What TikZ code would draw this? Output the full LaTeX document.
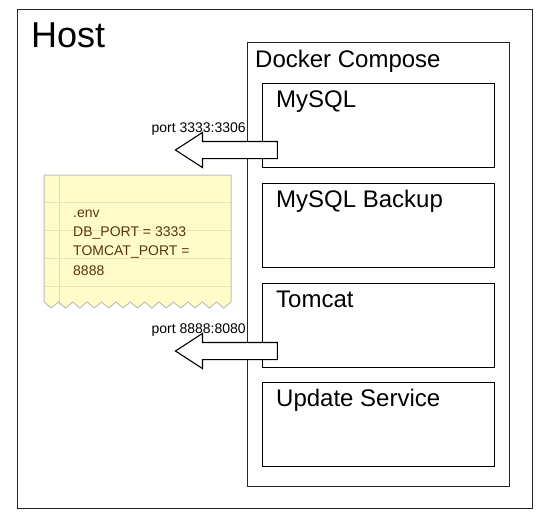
\documentclass[tikz,border=0pt]{standalone}
\usepackage{fontspec}
\setmainfont{Liberation Sans}
\usetikzlibrary{shapes.arrows}
\definecolor{notefill}{RGB}{255,252,200}
\definecolor{noteline}{RGB}{232,228,180}
\definecolor{notemargin}{RGB}{246,214,180}
\definecolor{notetext}{RGB}{92,51,10}
\begin{document}
\begin{tikzpicture}[x=1pt,y=-1pt]
\tikzstyle{every node}+=[inner sep=0pt]
\tikzstyle{frame}=[draw=black!85,line width=1.2pt,anchor=north west]
\tikzstyle{service}=[draw=black,line width=1.1pt,minimum width=232pt,minimum height=84pt,anchor=north west]
\tikzstyle{boxlbl}=[anchor=base west,font=\fontsize{24}{28}\selectfont]
\tikzstyle{portarrow}=[draw=black,fill=white,line width=1.1pt,single arrow,shape border rotate=180,inner xsep=0pt,inner ysep=8pt,minimum height=102pt,single arrow head extend=9pt,single arrow tip angle=66,anchor=east]
\tikzstyle{portlbl}=[anchor=base east,font=\fontsize{14}{16}\selectfont]
\useasboundingbox (0,0) rectangle (549,522);
\node[frame,minimum width=515pt,minimum height=499pt] (host) at (17,9) {};
\node[anchor=base west,font=\fontsize{36}{40}\selectfont] (hostlbl) at (31,47) {Host};
\node[frame,minimum width=262pt,minimum height=444pt] (compose) at (247,42) {};
\node[boxlbl] (composelbl) at (255,67) {Docker Compose};
\node[service] (mysql) at (262,83) {};
\node[boxlbl] (mysqllbl) at (276,107) {MySQL};
\node[service] (backup) at (262,183) {};
\node[boxlbl] (backuplbl) at (276,207) {MySQL Backup};
\node[service] (tomcat) at (262,283) {};
\node[boxlbl] (tomcatlbl) at (276,307) {Tomcat};
\node[service] (update) at (262,382) {};
\node[boxlbl] (updatelbl) at (276,406) {Update Service};
\node[portarrow] (mysqlport) at (278,150) {};
\node[portlbl] (mysqlportlbl) at (246,132) {port 3333:3306};
\node[portarrow] (tomcatport) at (278,351) {};
\node[portlbl] (tomcatportlbl) at (246,333) {port 8888:8080};
\fill[notefill] (44,175) -- (44,302) \foreach \i in {0,...,12} { -- ({44+14.385*\i+7.19},308) -- ({44+14.385*(\i+1)},302) } -- (231,175) -- cycle;
\draw[noteline,line width=1pt] (44,202) -- (231,202);
\draw[noteline,line width=1pt] (44,230) -- (231,230);
\draw[noteline,line width=1pt] (44,258) -- (231,258);
\draw[noteline,line width=1pt] (44,286) -- (231,286);
\draw[notemargin,line width=1pt] (59,175) -- (59,305);
\draw[black!25,line width=1pt] (44,175) -- (44,302) \foreach \i in {0,...,12} { -- ({44+14.385*\i+7.19},308) -- ({44+14.385*(\i+1)},302) } -- (231,175) -- cycle;
\node[anchor=north west,align=left,text=notetext,font=\fontsize{14}{19.3}\selectfont] (envtext) at (73,203.5) {\strut .env\\DB\_PORT = 3333\\TOMCAT\_PORT =\\8888};
\end{tikzpicture}
\end{document}
